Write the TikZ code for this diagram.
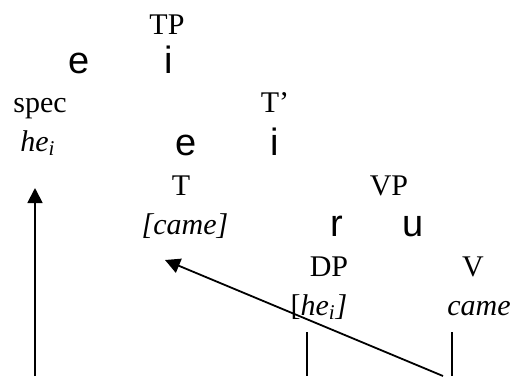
\documentclass[tikz,border=0pt]{standalone}
\usepackage{fontspec}
\setmainfont{Liberation Serif}
\newfontfamily\treefont{Liberation Sans}
\usetikzlibrary{arrows.meta}
\newcommand{\HEI}{\textit{he\textsubscript{i}}}

\begin{document}
\begin{tikzpicture}[x=0.5pt,y=-0.5pt,
    lab/.style={anchor=base,inner sep=0pt,font=\fontsize{15}{17}\selectfont},
    br/.style={anchor=base,inner sep=0pt,font=\treefont\fontsize{19}{19}\selectfont},
    mv/.style={line width=0.9pt,-{Triangle[length=7.5pt,width=7.5pt]}},
    stem/.style={line width=0.8pt}]
    \useasboundingbox (0,0) rectangle (515,376);

    \node[lab] (tp) at (167,34) {TP};
    \node[br] (tpl) at (79,73) {e};
    \node[br] (tpr) at (169,73) {i};

    \node[lab] (spec) at (40,112) {spec};
    \node[lab] (he) at (38,151) {\HEI};
    \node[lab] (tbar) at (275,112) {T'};
    \node[br] (tbarl) at (186,155) {e};
    \node[br] (tbarr) at (275,155) {i};

    \node[lab] (t) at (181,195) {T};
    \node[lab] (tcame) at (185,234) {\textit{[came]}};
    \node[lab] (vp) at (389,195) {VP};
    \node[br] (vpl) at (337,236) {r};
    \node[br] (vpr) at (413,236) {u};

    \node[lab] (dp) at (329,276) {DP};
    \node[lab] (dphe) at (319,315) {[\textit{he\textsubscript{i}]}};
    \node[lab] (v) at (473,276) {V};
    \node[lab] (vcame) at (479,315) {\textit{came}};

    % movement lines
    \coordinate (dptop) at (307,332);
    \coordinate (dpbot) at (307,376);
    \coordinate (vtop) at (452,332);
    \coordinate (vbot) at (452,376);
    \coordinate (specbot) at (35,376);
    \coordinate (spectip) at (35,188);
    \coordinate (vstart) at (443,376);
    \coordinate (ttip) at (165,260);

    \draw[stem] (dptop) -- (dpbot);
    \draw[stem] (vtop) -- (vbot);
    \draw[mv] (specbot) -- (spectip);
    \draw[mv] (vstart) -- (ttip);
\end{tikzpicture}
\end{document}
